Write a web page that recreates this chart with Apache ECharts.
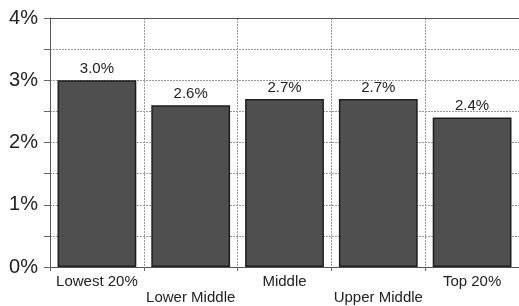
<!DOCTYPE html>
<html>
<head>
<meta charset="utf-8">
<script src="https://cdn.jsdelivr.net/npm/echarts@6/dist/echarts.min.js"></script>
<style>
html, body { margin: 0; padding: 0; background: #fff; }
#main { width: 519px; height: 306px; }
</style>
</head>
<body>
<div id="main"></div>
<script>
// categories and values (percent)
var groups = ['Lowest 20%', 'Lower Middle', 'Middle', 'Upper Middle', 'Top 20%'];
var shares = [3.0, 2.6, 2.7, 2.7, 2.4];
var yTicks = [0, 1, 2, 3, 4];

var chart = echarts.init(document.getElementById('main'));

var option = {
    animation: false,
    textStyle: { fontFamily: 'Liberation Sans, Arial, sans-serif' },
    grid: {
        left: 50,
        right: -2,
        top: 18,
        bottom: 38
    },
    xAxis: [{
        type: 'category',
        data: groups,
        axisLine: { lineStyle: { color: '#555', width: 1 } },
        axisTick: { show: true, length: 4, lineStyle: { color: '#666' } },
        splitLine: {
            show: true,
            lineStyle: { color: '#999', type: [2, 1], width: 1 }
        },
        axisLabel: {
            interval: 0,
            margin: 7,
            color: '#222',
            fontSize: 15,
            lineHeight: 16,
            // staggered labels like the original
            formatter: function (v, i) {
                return i % 2 === 1 ? '\n' + v : v;
            }
        }
    }, {
        // solid line along the 4% top edge
        type: 'category',
        position: 'top',
        data: groups,
        axisLine: { show: true, lineStyle: { color: '#555', width: 1 } },
        axisTick: { show: false },
        axisLabel: { show: false }
    }],
    yAxis: {
        type: 'value',
        min: 0,
        max: 4,
        interval: 0.5,
        axisLine: { show: true, lineStyle: { color: '#555', width: 1 } },
        axisTick: { show: true, length: 6, lineStyle: { color: '#666' } },
        splitLine: {
            lineStyle: { color: '#999', type: [2, 1], width: 1 }
        },
        axisLabel: {
            margin: 12,
            color: '#222',
            fontSize: 20,
            formatter: function (v) {
                return yTicks.indexOf(v) >= 0 ? v + '%' : '';
            }
        }
    },
    series: [{
        type: 'bar',
        data: shares,
        barCategoryGap: '16%',
        itemStyle: {
            color: '#4f4f4f',
            borderColor: '#1e1e1e',
            borderWidth: 1.5
        },
        label: {
            show: true,
            position: 'top',
            distance: 4,
            color: '#222',
            fontSize: 15,
            formatter: function (p) { return p.value.toFixed(1) + '%'; }
        }
    }]
};

chart.setOption(option);
</script>
</body>
</html>
